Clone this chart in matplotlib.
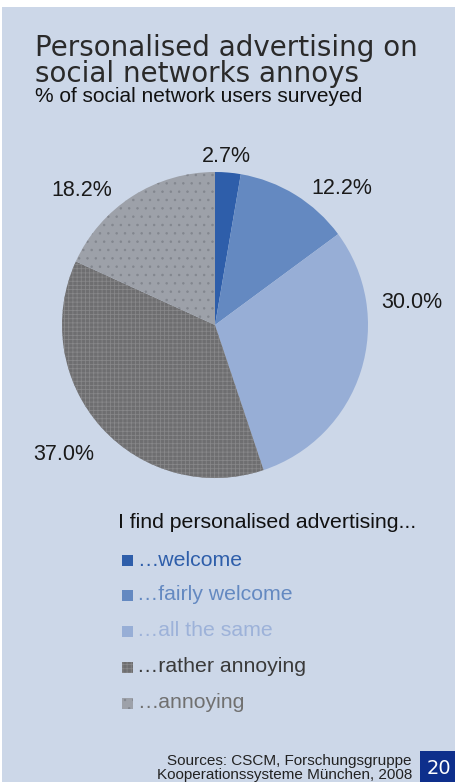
import matplotlib
matplotlib.use("Agg")
import matplotlib.pyplot as plt
from matplotlib.patches import Rectangle

categories = ["…welcome", "…fairly welcome", "…all the same", "…rather annoying", "…annoying"]
values = [2.7, 12.2, 30.0, 37.0, 18.2]
labels = ["2.7%", "12.2%", "30.0%", "37.0%", "18.2%"]
colors = ["#2E5EAA", "#6489C1", "#97AED6", "#6E6E70", "#9DA1A9"]
text_colors = ["#2E5EAA", "#6489C1", "#9DB2D9", "#3A3A3A", "#707070"]
hatches = [None, None, None, "++++", ".."]
hatch_colors = [None, None, None, "#88888A", "#82868E"]

W, H = 456, 782
BG = "#CCD7E8"

plt.rcParams["hatch.linewidth"] = 0.55
fig = plt.figure(figsize=(W / 100, H / 100), dpi=100)
fig.patch.set_facecolor("white")

# Panel background
bg = fig.add_axes([0, 0, 1, 1])
bg.set_xlim(0, W)
bg.set_ylim(H, 0)
bg.axis("off")
bg.add_patch(Rectangle((2, 7), W - 2, H - 7, facecolor=BG, edgecolor="none"))

# Titles
bg.text(35, 82, "Personalised advertising on\nsocial networks annoys", fontsize=20,
        family="DejaVu Sans", color="#2A2A2A", va="baseline", linespacing=0.92)
bg.text(35, 102, "% of social network users surveyed", fontsize=15,
        family="Liberation Sans", color="#111111", va="baseline")

# Pie
cx, cy, r = 215, 325, 153
ax = fig.add_axes([(cx - r) / W, (H - cy - r) / H, 2 * r / W, 2 * r / H])
wedges, _ = ax.pie(values, colors=colors, startangle=90, counterclock=False,
                   radius=1, wedgeprops=dict(linewidth=0))
ax.set_xlim(-1, 1)
ax.set_ylim(-1, 1)
ax.axis("off")
for w, h, hc in zip(wedges, hatches, hatch_colors):
    if h:
        w.set_hatch(h)
        w.set_edgecolor(hc)
        w.set_linewidth(0)

# Percentage labels
label_pos = [(226, 156), (342, 189), (412, 302), (64, 455), (82, 190)]
for (x, y), t in zip(label_pos, labels):
    bg.text(x, y, t, fontsize=15.5, family="Liberation Sans", color="#1A1A1A",
            ha="center", va="center")

# Legend
bg.text(118, 522, "I find personalised advertising...", fontsize=15.3,
        family="Liberation Sans", color="#111111", va="center")
leg_y = [560, 595, 631, 667, 703]
for y, c, t, tc, h, hc in zip(leg_y, colors, categories, text_colors, hatches, hatch_colors):
    sq = Rectangle((122, y - 5), 11, 11, facecolor=c, edgecolor=hc if h else "none",
                   hatch=h, linewidth=0)
    bg.add_patch(sq)
    bg.text(137, y, t, fontsize=15.3, family="Liberation Sans", color=tc, va="center")

# Sources and page number
bg.text(412, 761, "Sources: CSCM, Forschungsgruppe", fontsize=11,
        family="Liberation Sans", color="#222222", ha="right", va="center")
bg.text(412, 775, "Kooperationssysteme München, 2008", fontsize=11,
        family="Liberation Sans", color="#222222", ha="right", va="center")
bg.add_patch(Rectangle((420, 751), W - 420, H - 751, facecolor="#0E2F8C", edgecolor="none"))
bg.text(439, 769, "20", fontsize=14, family="DejaVu Sans", color="white",
        ha="center", va="center")

fig.savefig("out.png", dpi=100, facecolor=fig.get_facecolor())
